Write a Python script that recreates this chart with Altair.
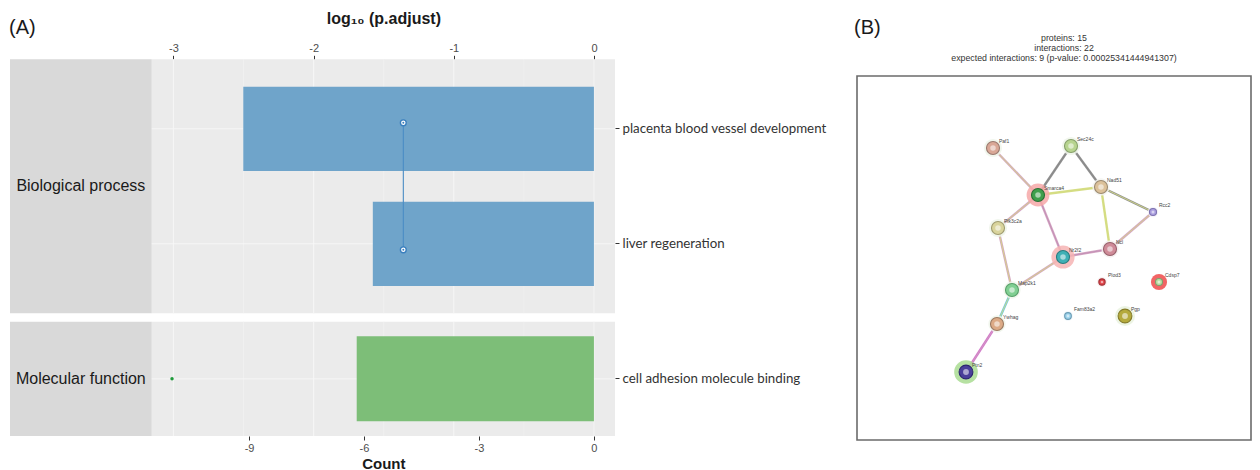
import altair as alt
import pandas as pd

W, H = 1244, 462


def pg(v):
    """page pixel -> chart pixel (page has an 8px margin)"""
    return v - 8


# ---------------- Panel A data ----------------
facets = ["Biological process", "Molecular function"]
bp_terms = ["placenta blood vessel development", "liver regeneration"]
bp_count = [9.15, 5.77]
bp_logp = [-1.36, -1.36]
mf_terms = ["cell adhesion molecule binding"]
mf_count = [6.19]
mf_logp = [-3.01]
count_ticks = [-9, -6, -3, 0]
logp_ticks = [-3, -2, -1, 0]
logp_minor = [-2.5, -1.5, -0.5]

# ---------------- Panel B data ----------------
node_names = ["Paf1", "Sec24c", "Smarca4", "Nad51", "Rcc2", "Pik3c2a", "Nr2f2", "Ncl",
              "Plod3", "Cdsp7", "Map2k1", "Fam83a2", "Pgp", "Ywhag", "Ptn2"]
node_x = [136, 214, 181, 244, 296, 141, 206, 253, 245, 302, 155, 211, 268, 140, 109]
node_y = [72, 70, 119, 111, 136, 152, 181, 173, 206, 206, 214, 240, 240, 248, 296]
edge_a = ["Paf1", "Sec24c", "Sec24c", "Smarca4", "Smarca4", "Smarca4", "Nad51", "Nad51",
          "Rcc2", "Nr2f2", "Pik3c2a", "Nr2f2", "Map2k1", "Ywhag"]
edge_b = ["Smarca4", "Smarca4", "Nad51", "Nad51", "Pik3c2a", "Nr2f2", "Rcc2", "Ncl",
          "Ncl", "Ncl", "Map2k1", "Map2k1", "Ywhag", "Ptn2"]
net_title = ["proteins: 15", "interactions: 22",
             "expected interactions: 9 (p-value: 0.00025341444941307)"]

# ---------------- styles ----------------
BLUE = "#6fa4ca"
GREEN = "#7dbe78"
PANEL = "#EBEBEB"
STRIP = "#D9D9D9"
YEL, PINK, GRAY, CYAN, MAG = "#d4dc80", "#d2a0bf", "#8a8a8a", "#6cc6dc", "#d070c8"
MAUVE = "#c08cb4"
edge_style = {  # (base colour, inner colour)
    ("Paf1", "Smarca4"): (PINK, YEL), ("Sec24c", "Smarca4"): (GRAY, GRAY),
    ("Sec24c", "Nad51"): (GRAY, GRAY), ("Smarca4", "Nad51"): (YEL, YEL),
    ("Smarca4", "Pik3c2a"): (PINK, YEL), ("Smarca4", "Nr2f2"): (PINK, MAUVE),
    ("Nad51", "Rcc2"): (GRAY, YEL), ("Nad51", "Ncl"): (YEL, YEL),
    ("Rcc2", "Ncl"): (PINK, YEL), ("Nr2f2", "Ncl"): (PINK, MAUVE),
    ("Pik3c2a", "Map2k1"): (PINK, YEL), ("Nr2f2", "Map2k1"): (PINK, YEL),
    ("Map2k1", "Ywhag"): (CYAN, YEL), ("Ywhag", "Ptn2"): (MAG, PINK),
}
node_style = {  # fill, stroke, size, halo colour, halo size
    "Paf1": ("#d9a796", "#9a7a70", 170, "#eef4ea", 330),
    "Sec24c": ("#b7d48f", "#86a06a", 170, "#eef4ea", 330),
    "Smarca4": ("#3f9f4c", "#2b6e35", 170, "#f6a8a8", 520),
    "Nad51": ("#dcc19a", "#9c8a70", 170, "#f3f3f0", 300),
    "Rcc2": ("#ab9fe0", "#7d72b0", 50, "#f3f1f8", 110),
    "Pik3c2a": ("#d9d49c", "#a09c70", 170, "#eef4ea", 330),
    "Nr2f2": ("#3fb0b5", "#2a7d80", 170, "#f6b4b4", 540),
    "Ncl": ("#cf8b98", "#98616c", 170, "#f4eeee", 300),
    "Plod3": ("#e04349", "#a33035", 40, "#f6eeee", 100),
    "Cdsp7": ("#b9dea2", "#80a070", 50, "#ef4a4a", 260),
    "Map2k1": ("#80cf92", "#58a06a", 170, "#eef4ea", 300),
    "Fam83a2": ("#9cd3ec", "#6a9cb4", 45, "#eef6fa", 100),
    "Pgp": ("#b5aa3c", "#857c2a", 190, "#e9f2df", 400),
    "Ywhag": ("#dcaa86", "#9c7a62", 170, "#eef4ea", 300),
    "Ptn2": ("#4a3f9a", "#2c2570", 190, "#a9dc92", 560),
}

FONT = "Liberation Sans"

# ---------------- scales (layout only) ----------------
X_STRIP = alt.Scale(domain=[0, 1], range=[pg(10), pg(151.7)], nice=False, zero=False)
X_PANEL = alt.Scale(domain=[0, 1], range=[pg(151.7), pg(615)], nice=False, zero=False)
X_COUNT = alt.Scale(domain=[-11.54, 0.55], range=[pg(151.7), pg(615)], nice=False, zero=False)
X_LOGP = alt.Scale(domain=[-3.155, 0.15], range=[pg(151.7), pg(615)], nice=False, zero=False)
Y_FRAME = {
    "bp": alt.Scale(domain=[0, 1], range=[pg(59.3), pg(313.3)], nice=False, zero=False),
    "mf": alt.Scale(domain=[0, 1], range=[pg(321.7), pg(436)], nice=False, zero=False),
}
Y_BAND = {
    "bp": alt.Scale(domain=bp_terms, range=[pg(59.3), pg(313.3)], paddingInner=0.267, paddingOuter=0.238),
    "mf": alt.Scale(domain=mf_terms, range=[pg(321.7), pg(436)], paddingInner=0, paddingOuter=0.172),
}
X_NET = alt.Scale(domain=[0, 394], range=[pg(857), pg(1251)], nice=False, zero=False)
Y_NET = alt.Scale(domain=[0, 364], range=[pg(76), pg(440)], nice=False, zero=False)

num_label = "'' + datum.value"

right_axis = alt.Axis(orient="right", offset=pg(615) - W, title=None, domain=False,
                      ticks=True, tickSize=4, tickColor="#333333", tickWidth=1,
                      labelFont="Lato", labelFontSize=13.3, labelColor="#333333",
                      labelPadding=3, labelLimit=400, grid=False)
top_axis = alt.Axis(orient="top", offset=-pg(59.3), values=logp_ticks, labelExpr=num_label,
                    title="log\u2081\u2080 (p.adjust)", titleFont=FONT, titleFontSize=16,
                    titleFontWeight="bold", titleColor="#1a1a1a", titlePadding=16,
                    domain=False, tickSize=4, tickColor="#333333", labelFont=FONT,
                    labelFontSize=11, labelColor="#4d4d4d", labelPadding=2, grid=False)
bottom_axis = alt.Axis(orient="bottom", offset=pg(436) - H, values=count_ticks,
                       labelExpr=num_label, title="Count", titleFont=FONT, titleFontSize=15,
                       titleFontWeight="bold", titleColor="#1a1a1a", titlePadding=3,
                       domain=False, tickSize=4, tickColor="#333333", labelFont=FONT,
                       labelFontSize=11, labelColor="#4d4d4d", labelPadding=2, grid=False)


def facet_layers(key, facet, terms, counts, logps, color, is_bp):
    yf = Y_FRAME[key]
    yb = Y_BAND[key]
    frame = pd.DataFrame({"x0": [0], "x1": [1], "xm": [0.5], "y0": [0], "y1": [1],
                          "ym": [0.5], "label": [facet]})
    L = []
    L.append(alt.Chart(frame).mark_rect(color=PANEL).encode(
        x=alt.X("x0:Q", scale=X_PANEL, axis=None), x2="x1:Q",
        y=alt.Y("y0:Q", scale=yf, axis=None), y2="y1:Q"))
    L.append(alt.Chart(frame).mark_rect(color=STRIP).encode(
        x=alt.X("x0:Q", scale=X_STRIP, axis=None), x2="x1:Q",
        y=alt.Y("y0:Q", scale=yf, axis=None), y2="y1:Q"))
    L.append(alt.Chart(frame).mark_text(font=FONT, fontSize=16, color="#1a1a1a",
                                        align="center", baseline="middle").encode(
        x=alt.X("xm:Q", scale=X_STRIP, axis=None),
        y=alt.Y("ym:Q", scale=yf, axis=None), text="label:N"))
    for vals, w in ((logp_ticks, 0.9), (logp_minor, 0.45)):
        g = pd.DataFrame({"v": vals, "y0": 0, "y1": 1})
        L.append(alt.Chart(g).mark_rule(color="#f7f7f7", strokeWidth=w).encode(
            x=alt.X("v:Q", scale=X_LOGP, axis=None),
            y=alt.Y("y0:Q", scale=yf, axis=None), y2="y1:Q"))
    df = pd.DataFrame({"term": terms, "count": counts, "logp": logps})
    hg = df.assign(x0=0, x1=1)
    L.append(alt.Chart(hg).mark_rule(color="#f7f7f7", strokeWidth=0.9).encode(
        x=alt.X("x0:Q", scale=X_PANEL, axis=None), x2="x1:Q",
        y=alt.Y("term:N", scale=yb, axis=None)))
    L.append(alt.Chart(df).transform_calculate(neg="-datum.count", zero="0").mark_bar(
        color=color).encode(
        x=alt.X("neg:Q", scale=X_COUNT, axis=None if is_bp else bottom_axis),
        x2="zero:Q",
        y=alt.Y("term:N", scale=yb, axis=right_axis)))
    if is_bp:
        L.append(alt.Chart(df).mark_line(color="#4a8cc4", strokeWidth=1.1).encode(
            x=alt.X("logp:Q", scale=X_LOGP, axis=None),
            y=alt.Y("term:N", scale=yb, axis=None)))
        L.append(alt.Chart(df).mark_point(filled=True, fill="white", stroke="#3a7fbe",
                                          strokeWidth=1.4, size=34, opacity=1).encode(
            x=alt.X("logp:Q", scale=X_LOGP, axis=top_axis),
            y=alt.Y("term:N", scale=yb, axis=None)))
        L.append(alt.Chart(df).mark_circle(color="#3a7fbe", size=4, opacity=1).encode(
            x=alt.X("logp:Q", scale=X_LOGP, axis=None),
            y=alt.Y("term:N", scale=yb, axis=None)))
    else:
        L.append(alt.Chart(df).mark_circle(color="#1e9a3a", size=12, opacity=1).encode(
            x=alt.X("logp:Q", scale=X_LOGP, axis=None),
            y=alt.Y("term:N", scale=yb, axis=None)))
    return L


layers = []
layers += facet_layers("bp", facets[0], bp_terms, bp_count, bp_logp, BLUE, True)
layers += facet_layers("mf", facets[1], mf_terms, mf_count, mf_logp, GREEN, False)

# ---------------- Panel B ----------------
box = pd.DataFrame({"x0": [0], "x1": [394], "y0": [0], "y1": [364]})
layers.append(alt.Chart(box).mark_rect(fill="white", stroke="#6b6b6b", strokeWidth=1.6).encode(
    x=alt.X("x0:Q", scale=X_NET, axis=None), x2="x1:Q",
    y=alt.Y("y0:Q", scale=Y_NET, axis=None), y2="y1:Q"))

pos = {n: (x, y) for n, x, y in zip(node_names, node_x, node_y)}
edges = pd.DataFrame({
    "x": [pos[a][0] for a in edge_a], "y": [pos[a][1] for a in edge_a],
    "x2": [pos[b][0] for b in edge_b], "y2": [pos[b][1] for b in edge_b],
    "c1": [edge_style[(a, b)][0] for a, b in zip(edge_a, edge_b)],
    "c2": [edge_style[(a, b)][1] for a, b in zip(edge_a, edge_b)],
})
for col, w in (("c1", 2.4), ("c2", 0.9)):
    layers.append(alt.Chart(edges).mark_rule(strokeWidth=w, opacity=0.95).encode(
        x=alt.X("x:Q", scale=X_NET, axis=None), x2="x2:Q",
        y=alt.Y("y:Q", scale=Y_NET, axis=None), y2="y2:Q",
        color=alt.Color(f"{col}:N", scale=None)))

nodes = pd.DataFrame({"name": node_names, "x": node_x, "y": node_y})
nodes["fill"] = [node_style[n][0] for n in node_names]
nodes["stroke"] = [node_style[n][1] for n in node_names]
nodes["size"] = [node_style[n][2] for n in node_names]
nodes["halo"] = [node_style[n][3] for n in node_names]
nodes["hsize"] = [node_style[n][4] for n in node_names]
nodes["hl"] = [node_style[n][2] * 0.18 for n in node_names]

layers.append(alt.Chart(nodes).mark_circle(opacity=0.85).encode(
    x=alt.X("x:Q", scale=X_NET, axis=None), y=alt.Y("y:Q", scale=Y_NET, axis=None),
    color=alt.Color("halo:N", scale=None), size=alt.Size("hsize:Q", scale=None)))
layers.append(alt.Chart(nodes).mark_point(filled=True, opacity=1, strokeWidth=1.1).encode(
    x=alt.X("x:Q", scale=X_NET, axis=None), y=alt.Y("y:Q", scale=Y_NET, axis=None),
    fill=alt.Fill("fill:N", scale=None), stroke=alt.Stroke("stroke:N", scale=None),
    size=alt.Size("size:Q", scale=None)))
layers.append(alt.Chart(nodes).mark_circle(opacity=0.55, color="white").encode(
    x=alt.X("x:Q", scale=X_NET, axis=None), y=alt.Y("y:Q", scale=Y_NET, axis=None),
    size=alt.Size("hl:Q", scale=None)))
layers.append(alt.Chart(nodes).mark_text(align="left", baseline="middle", dx=6, dy=-7,
                                         font=FONT, fontSize=5, color="#444444").encode(
    x=alt.X("x:Q", scale=X_NET, axis=None), y=alt.Y("y:Q", scale=Y_NET, axis=None),
    text="name:N"))

# ---------------- annotations ----------------
ann = pd.DataFrame({"t": ["(A)"]})
layers.append(alt.Chart(ann).mark_text(align="left", baseline="middle", font=FONT,
                                       fontSize=20, color="#1a1a1a").encode(
    x=alt.value(pg(9)), y=alt.value(pg(28)), text="t:N"))
annb = pd.DataFrame({"t": ["(B)"]})
layers.append(alt.Chart(annb).mark_text(align="left", baseline="middle", font=FONT,
                                        fontSize=20, color="#1a1a1a").encode(
    x=alt.value(pg(854)), y=alt.value(pg(28)), text="t:N"))
for i, line in enumerate(net_title):
    tdf = pd.DataFrame({"t": [line]})
    layers.append(alt.Chart(tdf).mark_text(align="center", baseline="middle", font=FONT,
                                           fontSize=8.8, color="#333333").encode(
        x=alt.value(pg(1064)), y=alt.value(pg(38 + 10 * i)), text="t:N"))

chart = alt.layer(*layers).resolve_scale(
    x="independent", y="independent", color="independent", size="independent",
    fill="independent", stroke="independent"
).properties(
    width=W, height=H, padding=0, background="white",
    autosize=alt.AutoSizeParams(type="none")
).configure_view(stroke=None)

chart.save("out.html", embed_options={"renderer": "svg", "actions": False})
